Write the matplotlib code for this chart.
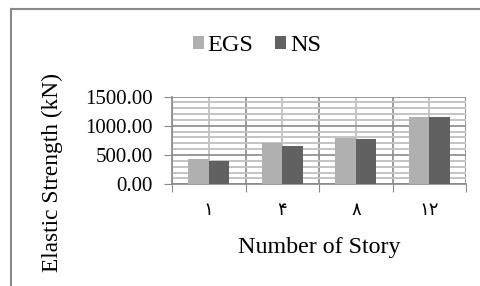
import numpy as np
import matplotlib.pyplot as plt
from matplotlib.ticker import MultipleLocator, FixedLocator, NullFormatter, FixedFormatter

# data
stories = ['\u0661', '\u06f4', '\u0668', '\u0661\u0662']
egs = [430, 700, 785, 1155]
ns = [395, 655, 768, 1148]

serif = ['Liberation Serif', 'DejaVu Serif', 'DejaVu Sans']
plt.rcParams['font.family'] = serif

fig = plt.figure(figsize=(4.8, 2.86), dpi=100)
ax = fig.add_axes([172 / 480, 1 - 184.3 / 286, (466 - 172) / 480, (184.3 - 96.5) / 286])

x = np.arange(len(stories))
w = 0.28
ax.bar(x - w / 2, egs, w, color='#b0b0b0', label='EGS', zorder=3)
ax.bar(x + w / 2, ns, w, color='#616161', label='NS', zorder=3)

ax.set_xlim(-0.5, len(stories) - 0.5)
ax.set_ylim(0, 1500)

ax.yaxis.set_major_locator(MultipleLocator(500))
ax.yaxis.set_minor_locator(MultipleLocator(100))
ax.yaxis.set_major_formatter(plt.FormatStrFormatter('%.2f'))

ax.xaxis.set_major_locator(FixedLocator(np.arange(len(stories) + 1) - 0.5))
ax.xaxis.set_major_formatter(NullFormatter())
ax.xaxis.set_minor_locator(FixedLocator(x))
ax.xaxis.set_minor_formatter(FixedFormatter(stories))

ax.grid(which='minor', color='#c4c4c4', linewidth=1.4, zorder=0)
ax.grid(which='major', color='#8a8a8a', linewidth=1.2, zorder=1)
ax.set_axisbelow(True)

for s in ['top', 'right']:
    ax.spines[s].set_visible(False)
for s in ['left', 'bottom']:
    ax.spines[s].set_color('#8a8a8a')
    ax.spines[s].set_linewidth(1.2)

ax.tick_params(axis='y', which='major', length=6, color='#8a8a8a', labelsize=15, pad=8)
ax.tick_params(axis='y', which='minor', length=0)
ax.tick_params(axis='x', which='major', length=6, color='#8a8a8a')
ax.tick_params(axis='x', which='minor', length=0, labelsize=13, pad=12)
for lab in ax.get_xticklabels(minor=True):
    lab.set_family(['DejaVu Sans'])

ax.set_xlabel('Number of Story', fontsize=17.3, labelpad=13)
fig.text(52 / 480, 1 - 173 / 286, 'Elastic Strength (kN)', rotation=90,
         fontsize=16.8, ha='center', va='center')

fig.legend(loc='center', bbox_to_anchor=(257 / 480, 1 - 45.6 / 286), ncol=2,
           frameon=False, fontsize=17.5, handlelength=0.45, handleheight=0.45,
           handletextpad=0.15, columnspacing=0.9)

# outer frame, left and top edges visible
fig.add_artist(plt.Line2D([10.5 / 480, 10.5 / 480], [0, 1 - 8.5 / 286],
                          transform=fig.transFigure, color='#8a8a8a', lw=1.5))
fig.add_artist(plt.Line2D([10.5 / 480, 1], [1 - 8.5 / 286, 1 - 8.5 / 286],
                          transform=fig.transFigure, color='#8a8a8a', lw=1.5))

fig.savefig('out.png', dpi=100)
